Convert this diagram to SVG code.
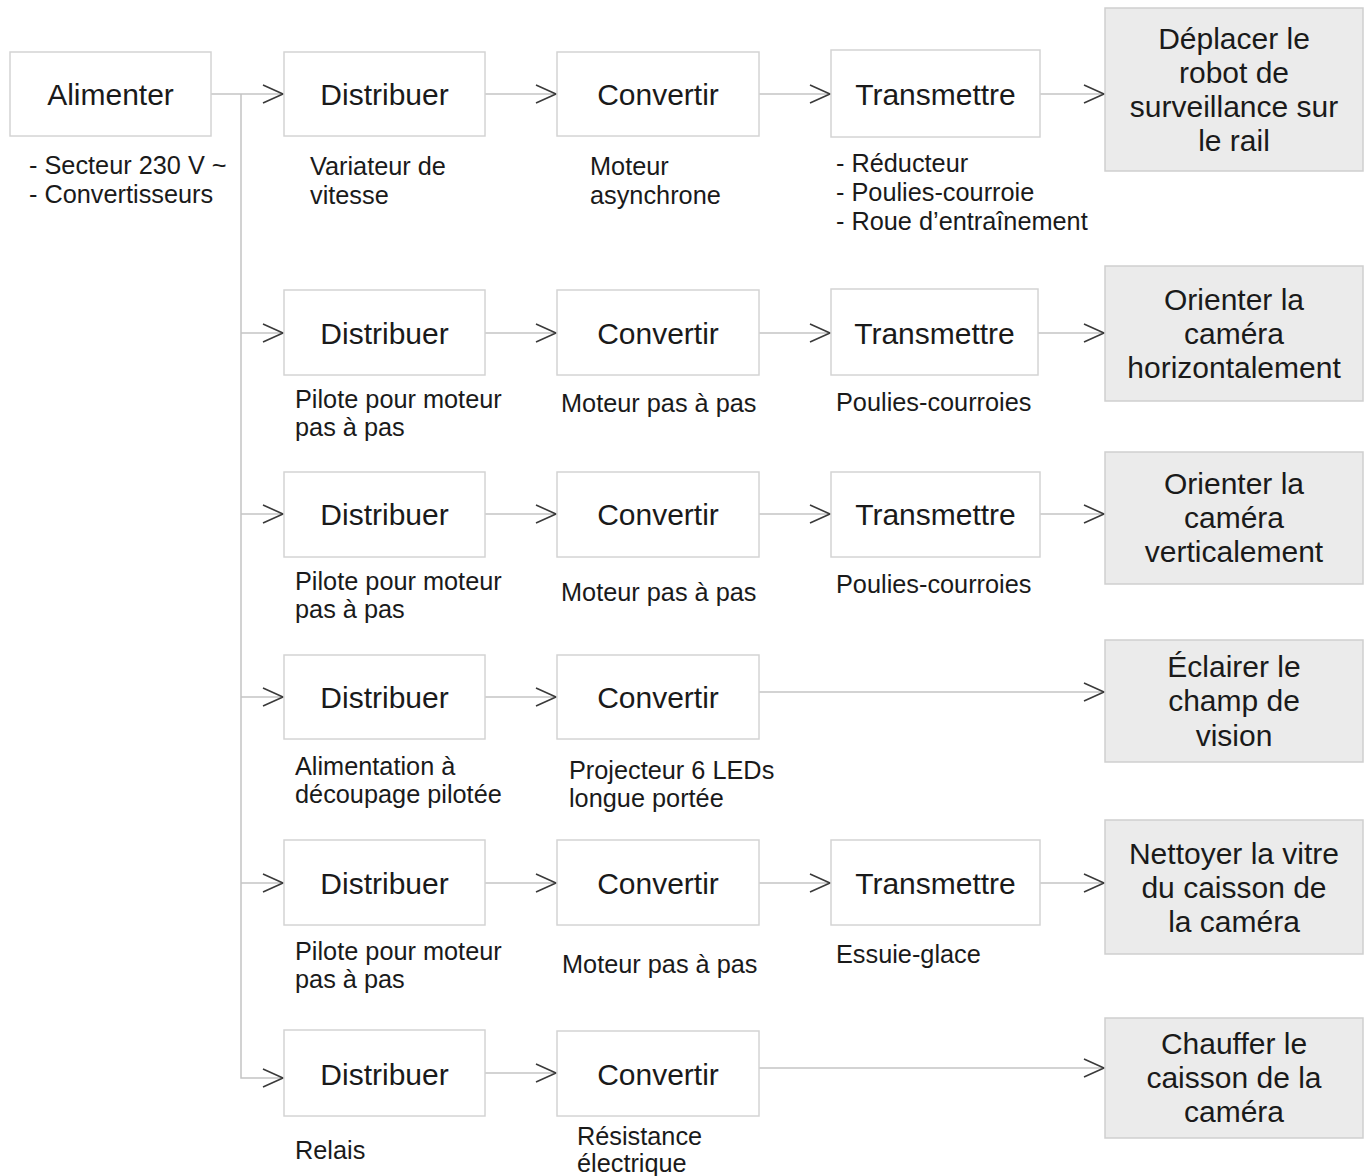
<svg xmlns="http://www.w3.org/2000/svg" width="1370" height="1176" viewBox="0 0 1370 1176">
<style>
.box{fill:#ffffff;stroke:#d4d4d4;stroke-width:1.5}
.fin{fill:#ebebeb;stroke:#cfcfcf;stroke-width:1.5}
.lbl{font-family:"Liberation Sans",Arial,sans-serif;font-size:30px;fill:#1a1a1a;text-anchor:middle}
.sub{font-family:"Liberation Sans",Arial,sans-serif;font-size:25.3px;fill:#1a1a1a}
.ln{fill:none;stroke:#c4c4c4;stroke-width:1.5}
</style>
<defs>
<marker id="ar" markerUnits="userSpaceOnUse" markerWidth="24" markerHeight="22" refX="21" refY="10" orient="auto" overflow="visible">
<path d="M1,1 L21,10 L1,19" fill="none" stroke="#3a3a3a" stroke-width="1.6"/>
</marker>
</defs>
<rect width="1370" height="1176" fill="#ffffff"/>

<g id="connectors">
<path class="ln" d="M211,94 H283" marker-end="url(#ar)"/>
<path class="ln" d="M241,94 V1078 H283" marker-end="url(#ar)"/>
<path class="ln" d="M241,333 H283" marker-end="url(#ar)"/>
<path class="ln" d="M241,514 H283" marker-end="url(#ar)"/>
<path class="ln" d="M241,697 H283" marker-end="url(#ar)"/>
<path class="ln" d="M241,883 H283" marker-end="url(#ar)"/>
<path class="ln" d="M485,94 H556" marker-end="url(#ar)"/>
<path class="ln" d="M759,94 H830" marker-end="url(#ar)"/>
<path class="ln" d="M1040,94 H1104" marker-end="url(#ar)"/>
<path class="ln" d="M485,333 H556" marker-end="url(#ar)"/>
<path class="ln" d="M759,333 H830" marker-end="url(#ar)"/>
<path class="ln" d="M1038,333 H1104" marker-end="url(#ar)"/>
<path class="ln" d="M485,514 H556" marker-end="url(#ar)"/>
<path class="ln" d="M759,514 H830" marker-end="url(#ar)"/>
<path class="ln" d="M1040,514 H1104" marker-end="url(#ar)"/>
<path class="ln" d="M485,697 H556" marker-end="url(#ar)"/>
<path class="ln" d="M759,692 H1104" marker-end="url(#ar)"/>
<path class="ln" d="M485,883 H556" marker-end="url(#ar)"/>
<path class="ln" d="M759,883 H830" marker-end="url(#ar)"/>
<path class="ln" d="M1040,883 H1104" marker-end="url(#ar)"/>
<path class="ln" d="M485,1073 H556" marker-end="url(#ar)"/>
<path class="ln" d="M759,1068 H1104" marker-end="url(#ar)"/>
</g>

<g id="alimenter">
<rect class="box" x="10" y="52" width="201" height="84"/>
<text class="lbl" x="110.5" y="105">Alimenter</text>
<text class="sub" x="29" y="174">- Secteur 230 V ~</text>
<text class="sub" x="29" y="203">- Convertisseurs</text>
</g>

<!-- Row 1 -->
<g id="distribuer1">
<rect class="box" x="284" y="52" width="201" height="84"/>
<text class="lbl" x="384.5" y="105">Distribuer</text>
<text class="sub" x="310" y="175">Variateur de</text>
<text class="sub" x="310" y="204">vitesse</text>
</g>
<g id="convertir1">
<rect class="box" x="557" y="52" width="202" height="84"/>
<text class="lbl" x="658" y="105">Convertir</text>
<text class="sub" x="590" y="175">Moteur</text>
<text class="sub" x="590" y="204">asynchrone</text>
</g>
<g id="transmettre1">
<rect class="box" x="831" y="50" width="209" height="87"/>
<text class="lbl" x="935.5" y="105">Transmettre</text>
<text class="sub" x="836" y="172">- Réducteur</text>
<text class="sub" x="836" y="201">- Poulies-courroie</text>
<text class="sub" x="836" y="230">- Roue d’entraînement</text>
</g>
<g id="final1">
<rect class="fin" x="1105" y="8" width="258" height="163"/>
<text class="lbl" x="1234" y="49">Déplacer le</text>
<text class="lbl" x="1234" y="83">robot de</text>
<text class="lbl" x="1234" y="117">surveillance sur</text>
<text class="lbl" x="1234" y="151">le rail</text>
</g>

<!-- Row 2 -->
<g id="distribuer2">
<rect class="box" x="284" y="290" width="201" height="85"/>
<text class="lbl" x="384.5" y="344">Distribuer</text>
<text class="sub" x="295" y="408">Pilote pour moteur</text>
<text class="sub" x="295" y="436">pas à pas</text>
</g>
<g id="convertir2">
<rect class="box" x="557" y="290" width="202" height="85"/>
<text class="lbl" x="658" y="344">Convertir</text>
<text class="sub" x="561" y="412">Moteur pas à pas</text>
</g>
<g id="transmettre2">
<rect class="box" x="831" y="289" width="207" height="86"/>
<text class="lbl" x="934.5" y="344">Transmettre</text>
<text class="sub" x="836" y="411">Poulies-courroies</text>
</g>
<g id="final2">
<rect class="fin" x="1105" y="266" width="258" height="135"/>
<text class="lbl" x="1234" y="310">Orienter la</text>
<text class="lbl" x="1234" y="344">caméra</text>
<text class="lbl" x="1234" y="378">horizontalement</text>
</g>

<!-- Row 3 -->
<g id="distribuer3">
<rect class="box" x="284" y="472" width="201" height="85"/>
<text class="lbl" x="384.5" y="525">Distribuer</text>
<text class="sub" x="295" y="590">Pilote pour moteur</text>
<text class="sub" x="295" y="618">pas à pas</text>
</g>
<g id="convertir3">
<rect class="box" x="557" y="472" width="202" height="85"/>
<text class="lbl" x="658" y="525">Convertir</text>
<text class="sub" x="561" y="601">Moteur pas à pas</text>
</g>
<g id="transmettre3">
<rect class="box" x="831" y="472" width="209" height="85"/>
<text class="lbl" x="935.5" y="525">Transmettre</text>
<text class="sub" x="836" y="593">Poulies-courroies</text>
</g>
<g id="final3">
<rect class="fin" x="1105" y="452" width="258" height="132"/>
<text class="lbl" x="1234" y="494">Orienter la</text>
<text class="lbl" x="1234" y="528">caméra</text>
<text class="lbl" x="1234" y="562">verticalement</text>
</g>

<!-- Row 4 -->
<g id="distribuer4">
<rect class="box" x="284" y="655" width="201" height="84"/>
<text class="lbl" x="384.5" y="708">Distribuer</text>
<text class="sub" x="295" y="775">Alimentation à</text>
<text class="sub" x="295" y="803">découpage pilotée</text>
</g>
<g id="convertir4">
<rect class="box" x="557" y="655" width="202" height="84"/>
<text class="lbl" x="658" y="708">Convertir</text>
<text class="sub" x="569" y="779">Projecteur 6 LEDs</text>
<text class="sub" x="569" y="807">longue portée</text>
</g>
<g id="final4">
<rect class="fin" x="1105" y="640" width="258" height="122"/>
<text class="lbl" x="1234" y="677">Éclairer le</text>
<text class="lbl" x="1234" y="711">champ de</text>
<text class="lbl" x="1234" y="746">vision</text>
</g>

<!-- Row 5 -->
<g id="distribuer5">
<rect class="box" x="284" y="840" width="201" height="85"/>
<text class="lbl" x="384.5" y="894">Distribuer</text>
<text class="sub" x="295" y="960">Pilote pour moteur</text>
<text class="sub" x="295" y="988">pas à pas</text>
</g>
<g id="convertir5">
<rect class="box" x="557" y="840" width="202" height="85"/>
<text class="lbl" x="658" y="894">Convertir</text>
<text class="sub" x="562" y="973">Moteur pas à pas</text>
</g>
<g id="transmettre5">
<rect class="box" x="831" y="840" width="209" height="85"/>
<text class="lbl" x="935.5" y="894">Transmettre</text>
<text class="sub" x="836" y="963">Essuie-glace</text>
</g>
<g id="final5">
<rect class="fin" x="1105" y="820" width="258" height="134"/>
<text class="lbl" x="1234" y="864">Nettoyer la vitre</text>
<text class="lbl" x="1234" y="898">du caisson de</text>
<text class="lbl" x="1234" y="932">la caméra</text>
</g>

<!-- Row 6 -->
<g id="distribuer6">
<rect class="box" x="284" y="1030" width="201" height="86"/>
<text class="lbl" x="384.5" y="1085">Distribuer</text>
<text class="sub" x="295" y="1159">Relais</text>
</g>
<g id="convertir6">
<rect class="box" x="557" y="1031" width="202" height="85"/>
<text class="lbl" x="658" y="1085">Convertir</text>
<text class="sub" x="577" y="1145">Résistance</text>
<text class="sub" x="577" y="1172">électrique</text>
</g>
<g id="final6">
<rect class="fin" x="1105" y="1018" width="258" height="120"/>
<text class="lbl" x="1234" y="1054">Chauffer le</text>
<text class="lbl" x="1234" y="1088">caisson de la</text>
<text class="lbl" x="1234" y="1122">caméra</text>
</g>
</svg>
